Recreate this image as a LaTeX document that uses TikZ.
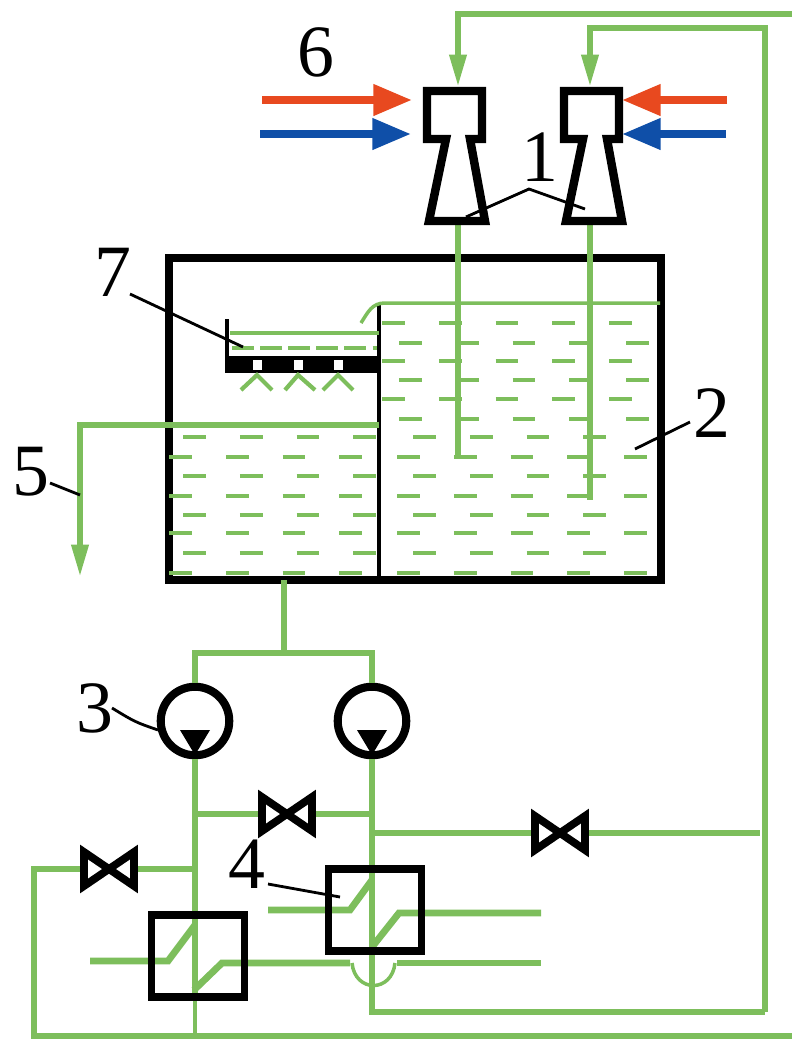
\documentclass[tikz,border=0pt]{standalone}
\usepackage{fontspec}
\setmainfont{Liberation Serif}
\usepackage{tikz}
\usetikzlibrary{arrows.meta}
\definecolor{pipegreen}{HTML}{7DBE5C}
\definecolor{hotred}{HTML}{E8491F}
\definecolor{coldblue}{HTML}{0F4FA8}

\begin{document}
\begin{tikzpicture}[
    x=0.02cm, y=-0.02cm,
    pipe/.style={draw=pipegreen, line width=3.9pt},
    thinpipe/.style={draw=pipegreen, line width=2pt},
    flow/.style={pipe, -{Triangle[length=19pt,width=9pt]}},
    hot/.style={draw=hotred, line width=4.4pt, -{Triangle[length=22pt,width=17pt]}, color=hotred},
    cold/.style={draw=coldblue, line width=4.4pt, -{Triangle[length=22pt,width=17pt]}, color=coldblue},
    liquid/.style={draw=pipegreen, line width=2.1pt, dash pattern=on 13pt off 19.3pt},
    wall/.style={draw=black, line width=4pt},
    pump/.style={circle, draw=black, line width=4.6pt, minimum size=39pt, inner sep=0pt},
    exchanger/.style={rectangle, draw=black, line width=4.2pt, minimum width=53pt, minimum height=46.5pt, inner sep=0pt},
    num/.style={inner sep=0pt, font=\fontsize{42}{42}\selectfont},
    leader/.style={draw=black, line width=1.6pt},
    valve/.pic={\draw[black, fill=white, line width=4.4pt, miter limit=3] (-25,-17) -- (25,17) -- (25,-17) -- (-25,17) -- cycle;},
    ejector/.pic={\draw[black, line width=4.8pt, miter limit=3] (-28,-48) -- (27,-48) -- (27,0) -- (15,0) -- (30,82) -- (-26,82) -- (-9,0) -- (-28,0) -- cycle;}
]
\useasboundingbox (0,0) rectangle (792,1039);

% tank and tray
\draw[wall] (169,258) rectangle (661,580);
\draw[wall, line width=2.6pt] (379,305) -- (379,580);
\draw[wall, line width=2.4pt] (227,319) -- (227,372);
\fill[black] (225,356) rectangle (379,373);
\fill[white] (253,360) rectangle (262,370);
\fill[white] (294,360) rectangle (303,370);
\fill[white] (334,360) rectangle (343,370);

% water, right part
\draw[liquid] (382,323) -- (633,323);
\draw[liquid] (399,343) -- (652,343);
\draw[liquid] (382,361) -- (633,361);
\draw[liquid] (399,380) -- (652,380);
\draw[liquid] (382,399) -- (633,399);
\draw[liquid] (399,419) -- (652,419);
\draw[liquid] (413,437) -- (609,437);
\draw[liquid] (397,457) -- (651,457);
\draw[liquid] (413,476) -- (609,476);
\draw[liquid] (397,496) -- (651,496);
\draw[liquid] (413,515) -- (609,515);
\draw[liquid] (397,533) -- (651,533);
\draw[liquid] (413,553) -- (609,553);
\draw[liquid] (397,573) -- (651,573);
% water, left part
\draw[liquid] (183,437) -- (377,437);
\draw[liquid] (169,457) -- (362,457);
\draw[liquid] (183,476) -- (377,476);
\draw[liquid] (169,496) -- (362,496);
\draw[liquid] (183,515) -- (377,515);
\draw[liquid] (169,533) -- (362,533);
\draw[liquid] (183,553) -- (377,553);
\draw[liquid] (169,573) -- (362,573);

% tray water and sprays
\draw[thinpipe] (230,333) -- (379,333);
\draw[liquid, dash pattern=on 12.5pt off 3.5pt] (232,348) -- (377,348);
\draw[thinpipe] (361,323) .. controls (368,312) and (372,303) .. (385,303) -- (660,303);
\draw[thinpipe, line width=2.4pt] (241,390) -- (257,375) -- (272,390);
\draw[thinpipe, line width=2.4pt] (285,390) -- (298,375) -- (315,390);
\draw[thinpipe, line width=2.4pt] (323,390) -- (338,375) -- (353,390);

% named points
\coordinate (inL) at (458,88);
\coordinate (inR) at (590,88);
\coordinate (outL) at (458,222);
\coordinate (outR) at (590,222);
\coordinate (drain) at (379,425);
\coordinate (sump) at (284,580);
\coordinate (header) at (284,653);
\coordinate (ejL) at (455,139);
\coordinate (ejR) at (592,139);
\coordinate (valveA) at (287,814);
\coordinate (valveB) at (109,869);
\coordinate (valveC) at (560,833);

\node[pump] (pumpL) at (195,721) {};
\node[pump] (pumpR) at (372,721) {};
\node[exchanger] (hxL) at (198,956) {};
\node[exchanger] (hxR) at (375,910) {};

% circulation
\draw[flow] (792,14) -- (458,14) -- (inL);
\draw[flow] (765,1012) -- (765,28) -- (590,28) -- (inR);
\draw[pipe] (outL) -- (458,455);
\draw[pipe] (outR) -- (590,500);
\draw[flow] (drain) -- (80,425) -- (80,578);
\draw[pipe] (sump) -- (header);
\draw[pipe] (pumpL.north) |- (header) -| (pumpR.north);
\draw[pipe] (pumpL.south) -- (pumpL.south |- hxL.south);
\draw[pipe] (pumpR.south) -- (372,1012) -- (765,1012);
\draw[pipe] (195,814) -- (valveA) -- (372,814);
\draw[pipe] (195,869) -- (valveB) -- (34,869) -- (34,1036) -- (792,1036);
\draw[pipe] (372,833) -- (valveC) -- (760,833);
\draw[thinpipe] (pumpL.south |- hxL.south) -- (195,1036);

% coils
\draw[pipe] (90,961) -- (168,961) -- (195,925);
\draw[pipe] (194,990) -- (222,963) -- (350,963);
\draw[pipe] (397,963) -- (541,963);
\draw[thinpipe] (352,963) .. controls (355,993) and (392,993) .. (395,963);
\draw[pipe] (268,910) -- (350,910) -- (372,880);
\draw[pipe] (372,947) -- (399,913) -- (541,913);

% exchangers, pumps and valves on top
\node[exchanger] at (hxL) {};
\node[exchanger] at (hxR) {};
\fill[black] (180,730) -- (210,730) -- (195,755) -- cycle;
\fill[black] (357,730) -- (387,730) -- (372,755) -- cycle;
\pic at (valveA) {valve};
\pic at (valveB) {valve};
\pic at (valveC) {valve};
\pic at (ejL) {ejector};
\pic at (ejR) {ejector};

% steam and gas
\draw[hot] (262,100) -- (412,100);
\draw[cold] (260,134) -- (411,134);
\draw[hot] (727,100) -- (622,100);
\draw[cold] (726,134) -- (622,134);

% labels
\node[num] (lab1) at (540,157) {1};
\node[num] (lab2) at (712,413) {2};
\node[num] (lab3) at (95,708) {3};
\node[num] (lab4) at (247,864) {4};
\node[num] (lab5) at (31,472) {5};
\node[num] (lab6) at (316,52) {6};
\node[num] (lab7) at (113,272) {7};

\coordinate (tip1) at (529,189);
\draw[leader] (466,217) -- (tip1) -- (585,209);
\draw[leader] (lab2) ++(-22,9) -- (635,449);
\draw[leader] (lab3) ++(17,0) .. controls (135,722) .. (158,730);
\draw[leader] (268,884) -- (340,897);
\draw[leader] (50,483) -- (80,495);
\draw[leader] (130,294) -- (243,347);
\end{tikzpicture}
\end{document}
